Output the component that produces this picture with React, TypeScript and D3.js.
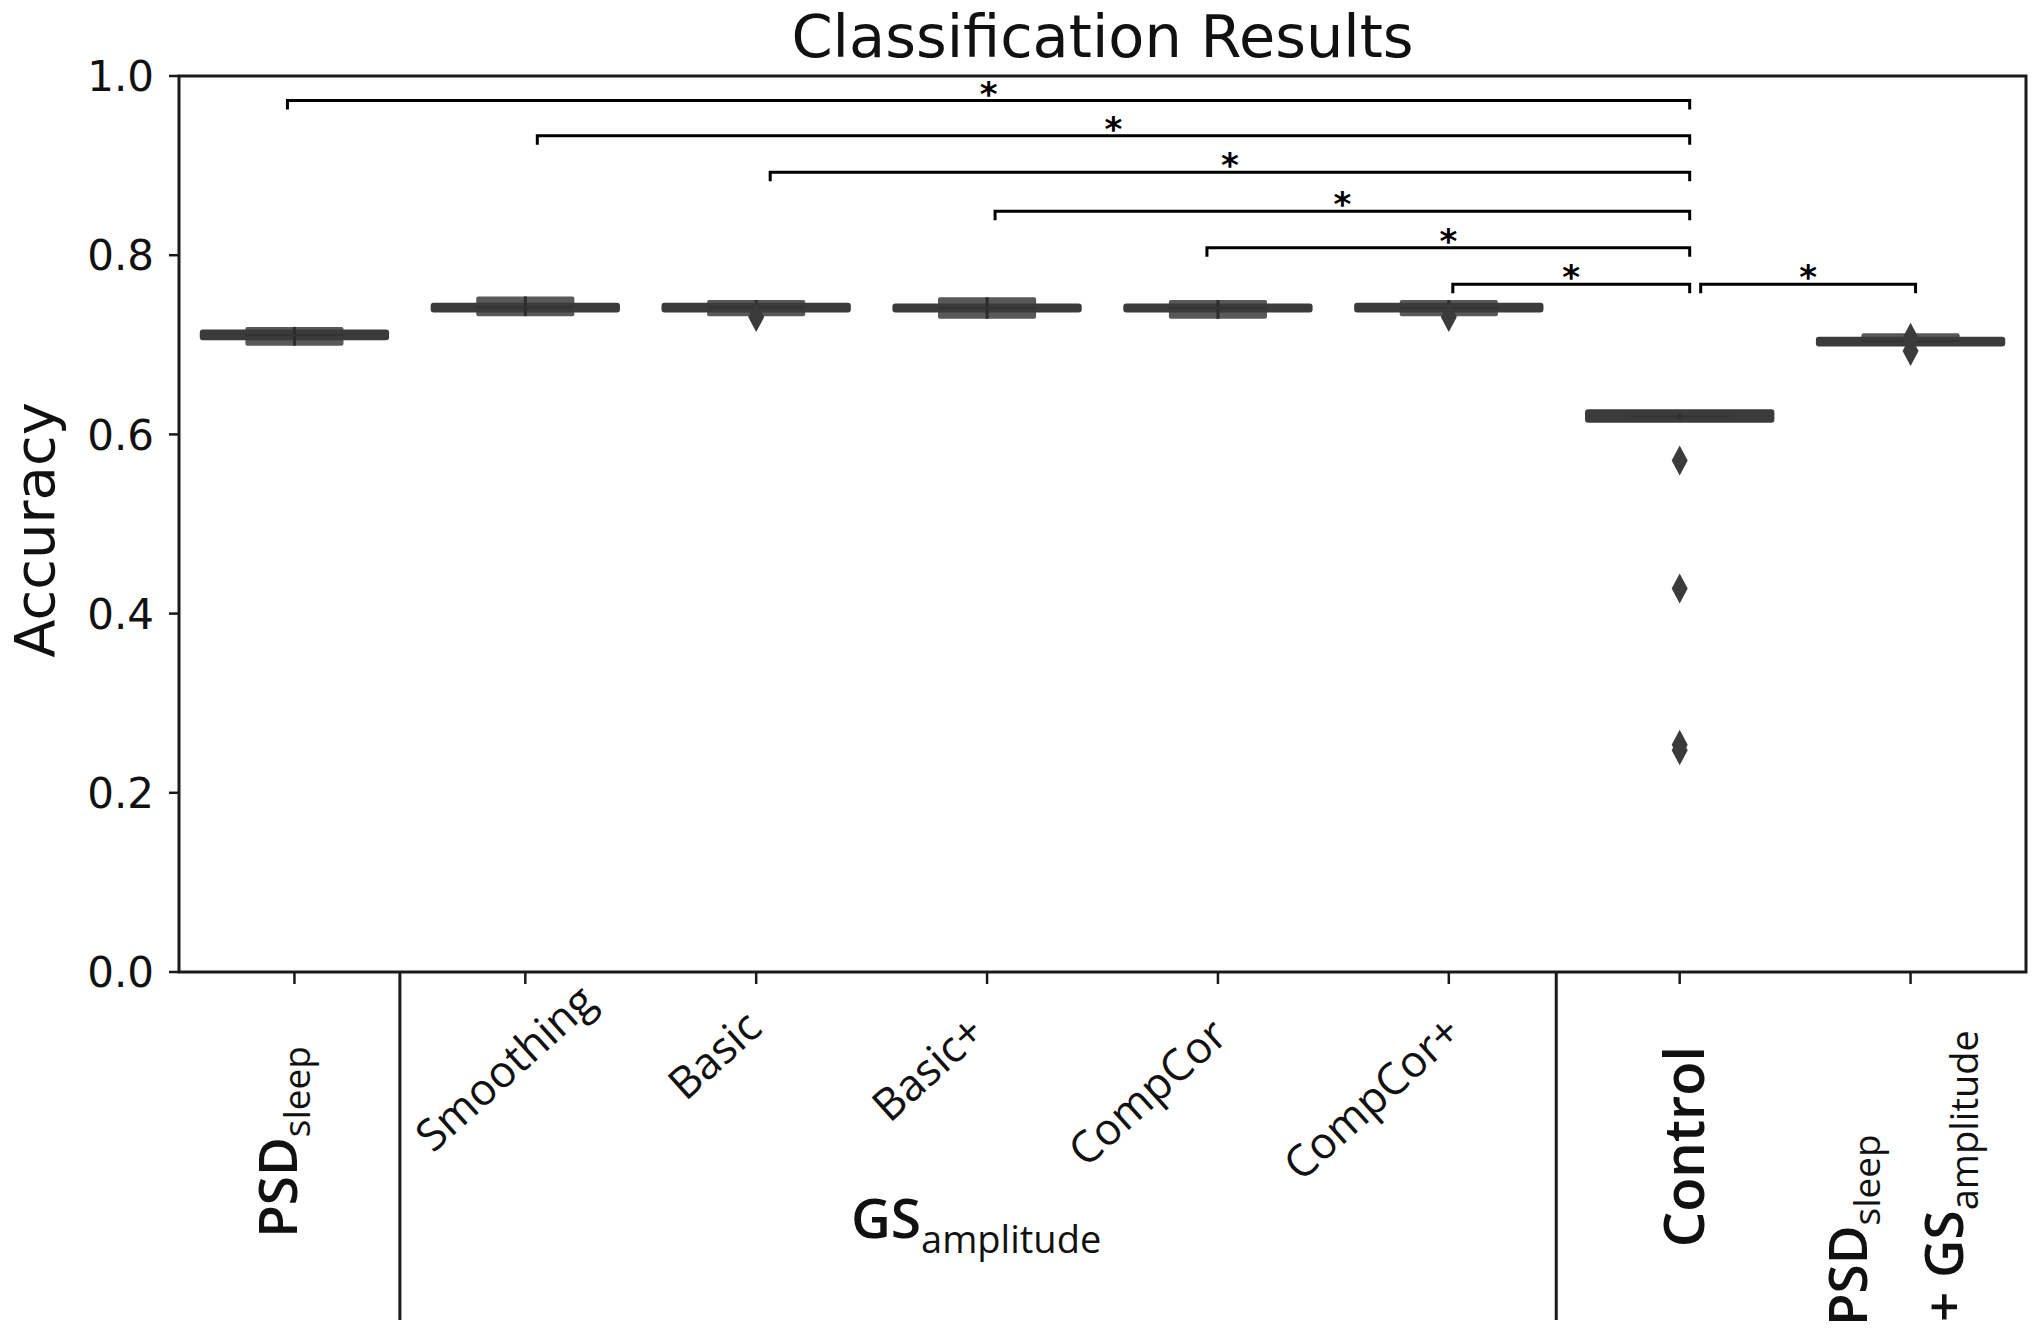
import React from "react";
import * as d3 from "d3";

// ---------- data ----------
const categories = [
  "PSD_sleep",
  "Smoothing",
  "Basic",
  "Basic+",
  "CompCor",
  "CompCor+",
  "Control",
  "PSD_sleep + GS_amplitude",
];
const medians = [0.711, 0.742, 0.742, 0.741, 0.741, 0.741, 0.62, 0.704];
const boxLow = [0.699, 0.732, 0.732, 0.729, 0.729, 0.732, 0.617, 0.699];
const boxHigh = [0.72, 0.754, 0.75, 0.753, 0.75, 0.75, 0.623, 0.713];
const barLow = [0.705, 0.736, 0.736, 0.736, 0.736, 0.736, 0.613, 0.698];
const barHigh = [0.717, 0.747, 0.747, 0.746, 0.746, 0.747, 0.628, 0.709];
const fliers: [string, number][] = [
  ["Basic", 0.731],
  ["CompCor+", 0.731],
  ["Control", 0.571],
  ["Control", 0.428],
  ["Control", 0.2535],
  ["Control", 0.2475],
  ["PSD_sleep + GS_amplitude", 0.708],
  ["PSD_sleep + GS_amplitude", 0.693],
];
const comparisons: [string, string][] = [
  ["PSD_sleep", "Control"],
  ["Smoothing", "Control"],
  ["Basic", "Control"],
  ["Basic+", "Control"],
  ["CompCor", "Control"],
  ["CompCor+", "Control"],
  ["Control", "PSD_sleep + GS_amplitude"],
];
const bracketHeights = [0.9726, 0.9334, 0.8927, 0.849, 0.8084, 0.7676, 0.7676];
const significance = ["*", "*", "*", "*", "*", "*", "*"];
const yTicks = [0, 0.2, 0.4, 0.6, 0.8, 1.0];
const groupLabel = "GS_amplitude";
const groupMembers = ["Smoothing", "Basic", "Basic+", "CompCor", "CompCor+"];
const title = "Classification Results";
const yLabel = "Accuracy";

const LABEL_FONT = "'Open Sans', 'Noto Sans', sans-serif";
const MPL_FONT = "'DejaVu Sans', sans-serif";

function splitSub(s: string) {
  const [main, sub] = s.split("_");
  return { main, sub };
}

export default function App() {
  const width = 2040;
  const height = 1339;
  const plotLeft = 179;
  const plotRight = 2026;
  const plotBottom = 972;
  const plotTop = 76;

  const x = d3.scaleBand<string>().domain(categories).range([plotLeft, plotRight]).padding(0);
  const bw = x.bandwidth();
  const cx = (c: string) => (x(c) as number) + bw / 2;
  const y = d3.scaleLinear().domain([0, 1]).range([plotBottom, plotTop]);

  const boxW = bw * 0.425;
  const barW = bw * 0.82;
  const dark = "#3b3b3b";
  const boxFill = "#595959";

  const diamond = (px: number, py: number) =>
    `M${px},${py - 15}L${px + 8},${py}L${px},${py + 15}L${px - 8},${py}Z`;

  // layout nudges for rotated labels (end point of text)
  const angled: Record<string, [number, number]> = {
    Smoothing: [73, 1005],
    Basic: [8, 1031],
    "Basic+": [0, 1036],
    CompCor: [12, 1039],
    "CompCor+": [15, 1036],
  };
  // layout nudges for bracket left ends
  const bracketStartNudge = [-7, 12, 14, 8, -11, 4, 21];

  const groupCenter =
    (cx(groupMembers[0]) + cx(groupMembers[groupMembers.length - 1])) / 2 - 11;
  const g = splitSub(groupLabel);

  return (
    <svg
      width={width}
      height={height}
      style={{ position: "absolute", left: 0, top: 0, background: "#fff" }}
    >
      <rect x={0} y={0} width={width} height={height} fill="#fff" />
      {/* title */}
      <text x={(plotLeft + plotRight) / 2} y={57} textAnchor="middle" fontFamily={MPL_FONT} fontSize={59} fill="#111">
        {title}
      </text>
      {/* y label */}
      <text
        transform={`translate(54,530) rotate(-90)`}
        textAnchor="middle"
        fontFamily={MPL_FONT}
        fontSize={56}
        fill="#111"
      >
        {yLabel}
      </text>

      {/* y ticks */}
      {yTicks.map((t) => (
        <g key={t}>
          <line x1={plotLeft - 10} x2={plotLeft} y1={y(t)} y2={y(t)} stroke="#1a1a1a" strokeWidth={2.5} />
          <text
            x={154}
            y={y(t)}
            dy="0.36em"
            textAnchor="end"
            fontFamily={MPL_FONT}
            fontSize={42}
            fill="#111"
          >
            {t.toFixed(1)}
          </text>
        </g>
      ))}

      {/* x ticks */}
      {categories.map((c) => (
        <line key={c} x1={cx(c)} x2={cx(c)} y1={plotBottom} y2={plotBottom + 12} stroke="#1a1a1a" strokeWidth={2.5} />
      ))}

      {/* boxes */}
      {categories.map((c, i) => {
        const px = cx(c);
        return (
          <g key={c}>
            <rect
              x={px - boxW / 2}
              y={y(boxHigh[i])}
              width={boxW}
              height={y(boxLow[i]) - y(boxHigh[i])}
              fill={boxFill}
              rx={2}
            />
            <rect
              x={px - barW / 2}
              y={y(barHigh[i])}
              width={barW}
              height={y(barLow[i]) - y(barHigh[i])}
              fill={dark}
              rx={3}
            />
            <line
              x1={px}
              x2={px}
              y1={y(boxHigh[i])}
              y2={y(boxLow[i])}
              stroke="#2c2c2c"
              strokeWidth={3}
            />
            <line
              x1={px - boxW / 2}
              x2={px + boxW / 2}
              y1={y(medians[i])}
              y2={y(medians[i])}
              stroke="#333"
              strokeWidth={2}
            />
          </g>
        );
      })}

      {/* fliers */}
      {fliers.map(([c, v], i) => (
        <path key={i} d={diamond(cx(c), y(v))} fill={dark} />
      ))}

      {/* significance brackets */}
      {comparisons.map(([a, b], i) => {
        const x1 = cx(a) + bracketStartNudge[i];
        const x2 = cx(b) + (b === "Control" ? 10 : 5);
        const yy = y(bracketHeights[i]);
        return (
          <g key={i}>
            <path
              d={`M${x1},${yy + 9}V${yy}H${x2}V${yy + 9}`}
              fill="none"
              stroke="#000"
              strokeWidth={3}
            />
            <text
              x={(x1 + x2) / 2}
              y={yy + 5}
              textAnchor="middle"
              fontFamily={MPL_FONT}
              fontWeight="bold"
              fontSize={34}
              fill="#000"
            >
              {significance[i]}
            </text>
          </g>
        );
      })}

      {/* frame */}
      <rect
        x={plotLeft}
        y={y(1)}
        width={plotRight - plotLeft}
        height={y(0) - y(1)}
        fill="none"
        stroke="#1a1a1a"
        strokeWidth={3}
      />

      {/* group separators */}
      <line x1={(x("Smoothing") as number) - 10} x2={(x("Smoothing") as number) - 10} y1={plotBottom} y2={1320} stroke="#1a1a1a" strokeWidth={3} />
      <line x1={(x("Control") as number) - 8} x2={(x("Control") as number) - 8} y1={plotBottom} y2={1320} stroke="#1a1a1a" strokeWidth={3} />

      {/* x labels */}
      {categories.map((c) => {
        const px = cx(c);
        if (angled[c]) {
          const [dx, yy] = angled[c];
          return (
            <text
              key={c}
              transform={`translate(${px + dx},${yy}) rotate(-42)`}
              textAnchor="end"
              fontFamily={LABEL_FONT}
              fontSize={44}
              fill="#111"
            >
              {c}
            </text>
          );
        }
        if (c.includes(" + ")) {
          const [l1, l2] = c.split(" + ");
          const s1 = splitSub(l1);
          const s2 = splitSub(l2);
          return (
            <g key={c}>
              <text
                transform={`translate(${px - 44},1326) rotate(-90)`}
                textAnchor="start"
                fontFamily={LABEL_FONT}
                fontSize={53}
                fontWeight={600}
                fill="#111"
              >
                <tspan>{s1.main}</tspan>
                <tspan dy={13} fontSize={37} fontWeight={400}>{s1.sub}</tspan>
              </text>
              <text
                transform={`translate(${px + 52},1322) rotate(-90)`}
                textAnchor="start"
                fontFamily={LABEL_FONT}
                fontSize={53}
                fontWeight={600}
                fill="#111"
              >
                <tspan>{"+ " + s2.main}</tspan>
                <tspan dy={15} fontSize={38} fontWeight={400}>{s2.sub}</tspan>
              </text>
            </g>
          );
        }
        const s = splitSub(c);
        const dxv = s.sub ? 3 : 24;
        return (
          <text
            key={c}
            transform={`translate(${px + dxv},1046) rotate(-90)`}
            textAnchor="end"
            fontFamily={LABEL_FONT}
            fontSize={s.sub ? 53 : 56}
            fontWeight={600}
            fill="#111"
          >
            <tspan>{s.main}</tspan>
            {s.sub ? (
              <tspan dy={13} fontSize={37} fontWeight={400}>
                {s.sub}
              </tspan>
            ) : null}
          </text>
        );
      })}

      {/* group label */}
      <text x={groupCenter} y={1238} textAnchor="middle" fontFamily={LABEL_FONT} fontSize={55} fontWeight={600} fill="#111">
        <tspan>{g.main}</tspan>
        <tspan dy={15} fontSize={38} fontWeight={400}>{g.sub}</tspan>
      </text>
    </svg>
  );
}
